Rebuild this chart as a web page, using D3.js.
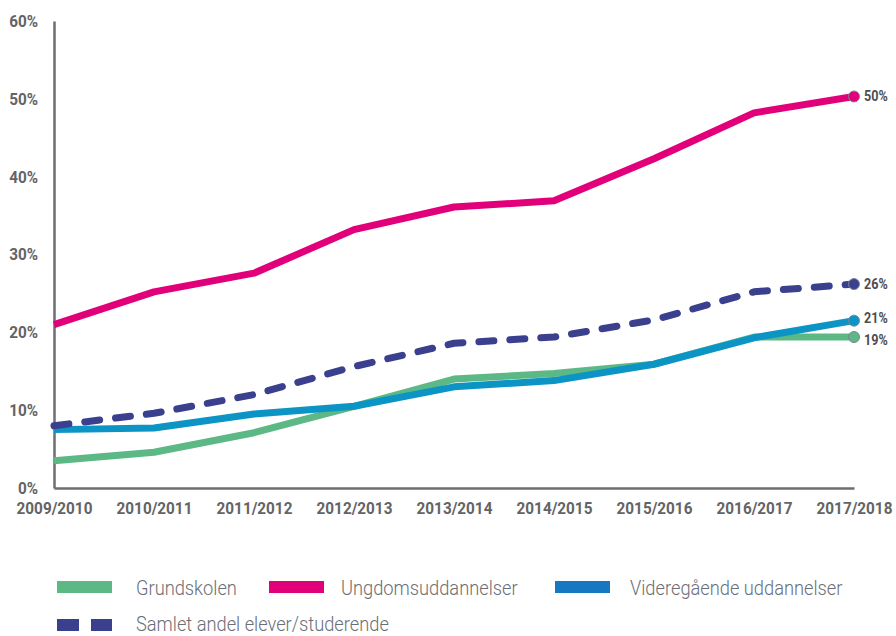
<!DOCTYPE html>
<html>
<head>
<meta charset="utf-8">
<script src="https://cdn.jsdelivr.net/npm/d3@7"></script>
<style>
  body { margin: 0; background: #fff; }
  svg { display: block; }
</style>
</head>
<body>
<div id="chart"></div>
<script>
const years = ["2009/2010", "2010/2011", "2011/2012", "2012/2013", "2013/2014", "2014/2015", "2015/2016", "2016/2017", "2017/2018"]
const grundskolen = [3.5, 4.6, 7.1, 10.5, 14.0, 14.7, 15.9, 19.4, 19.4]
const ungdom = [21.0, 25.2, 27.6, 33.2, 36.1, 36.9, 42.3, 48.2, 50.3]
const videregaende = [7.5, 7.7, 9.5, 10.5, 13.0, 13.8, 15.9, 19.3, 21.5]
const samlet = [8.0, 9.6, 12.0, 15.6, 18.6, 19.4, 21.6, 25.2, 26.2]
const yTicks = [0, 10, 20, 30, 40, 50, 60]
const endLabels = ["19%", "50%", "21%", "26%"]

const series = [
  { name: "Grundskolen", values: grundskolen, color: "#5cb985", legend: "#5cb985", label: endLabels[0], shift: 3 },
  { name: "Ungdomsuddannelser", values: ungdom, color: "#e2007a", legend: "#e2007a", label: endLabels[1], shift: 0 },
  { name: "Videregående uddannelser", values: videregaende, color: "#0c95c4", legend: "#1578c0", label: endLabels[2], shift: -3 },
  { name: "Samlet andel elever/studerende", values: samlet, color: "#3a3f8e", legend: "#3a3f8e", label: endLabels[3], shift: 0, dashed: true }
]

const width = 896
const height = 636
const margin = { top: 21, left: 54, right: 42, bottom: 148 }

const svg = d3.select("#chart")
  .append("svg")
  .attr("width", width)
  .attr("height", height)

const x = d3.scalePoint()
  .domain(years)
  .range([margin.left, width - margin.right])

const y = d3.scaleLinear()
  .domain([0, 60])
  .range([height - margin.bottom, margin.top])

const font = "Roboto, 'Liberation Sans', sans-serif"
const narrow = 0.9

// y axis
const yAxis = svg.append("g")
  .attr("transform", `translate(${margin.left},0)`)
  .call(d3.axisLeft(y).tickValues(yTicks).tickSize(0).tickPadding(15).tickFormat(d => d + "%"))
yAxis.select(".domain").attr("stroke", "#6d6e71").attr("stroke-width", 2.5)
yAxis.selectAll("text")
  .attr("x", -16 / narrow)
  .attr("transform", `scale(${narrow},1)`)
  .attr("fill", "#636466")
  .style("font-family", font)
  .style("font-weight", "bold")
  .style("font-size", "17px")

// x axis
const xAxis = svg.append("g")
  .attr("transform", `translate(0,${y(0)})`)
  .call(d3.axisBottom(x).tickSize(0).tickPadding(14))
xAxis.select(".domain").attr("stroke", "#6d6e71").attr("stroke-width", 2.5)
xAxis.selectAll("text")
  .attr("transform", `scale(${narrow},1)`)
  .attr("fill", "#636466")
  .style("font-family", font)
  .style("font-weight", "bold")
  .style("font-size", "17px")

const line = d3.line()
  .x((d, i) => x(years[i]))
  .y(d => y(d))

series.forEach(s => {
  svg.append("path")
    .datum(s.values)
    .attr("d", line)
    .attr("fill", "none")
    .attr("stroke", s.color)
    .attr("stroke-width", 7)
    .attr("stroke-linejoin", "round")
    .attr("stroke-linecap", s.dashed ? "round" : "butt")
    .attr("stroke-dasharray", s.dashed ? "15 16" : null)
})

const lastX = x(years[years.length - 1])
series.forEach(s => {
  const last = s.values[s.values.length - 1]
  svg.append("circle")
    .attr("cx", lastX)
    .attr("cy", y(last))
    .attr("r", 5.5)
    .attr("fill", s.color)
    .attr("stroke", "#7c8598")
    .attr("stroke-width", 1)

  svg.append("text")
    .attr("transform", `translate(${lastX + 10},${y(last) + s.shift}) scale(${narrow},1)`)
    .attr("dy", "0.35em")
    .attr("fill", "#4d4d4f")
    .style("font-family", font)
    .style("font-weight", "bold")
    .style("font-size", "14px")
    .text(s.label)
})

// legend
const legendItems = [
  { s: series[0], x: 57, y: 587, tx: 136 },
  { s: series[1], x: 269, y: 587, tx: 341 },
  { s: series[2], x: 555, y: 587, tx: 630 },
  { s: series[3], x: 57, y: 625, tx: 136 }
]

const legend = svg.append("g")
legendItems.forEach(item => {
  if (item.s.dashed) {
    legend.append("rect").attr("x", item.x).attr("y", item.y - 6).attr("width", 22).attr("height", 12).attr("fill", item.s.legend)
    legend.append("rect").attr("x", item.x + 34).attr("y", item.y - 6).attr("width", 21).attr("height", 12).attr("fill", item.s.legend)
  } else {
    legend.append("rect").attr("x", item.x).attr("y", item.y - 6).attr("width", 55).attr("height", 12).attr("fill", item.s.legend)
  }
  legend.append("text")
    .attr("transform", `translate(${item.tx},${item.y + (item.s.dashed ? -1 : 1)}) scale(0.87,1)`)
    .attr("dy", "0.35em")
    .attr("fill", "#6b6e75")
    .style("font-family", font)
    .style("font-weight", "300")
    .style("font-size", "21px")
    .text(item.s.name)
})
</script>
</body>
</html>
